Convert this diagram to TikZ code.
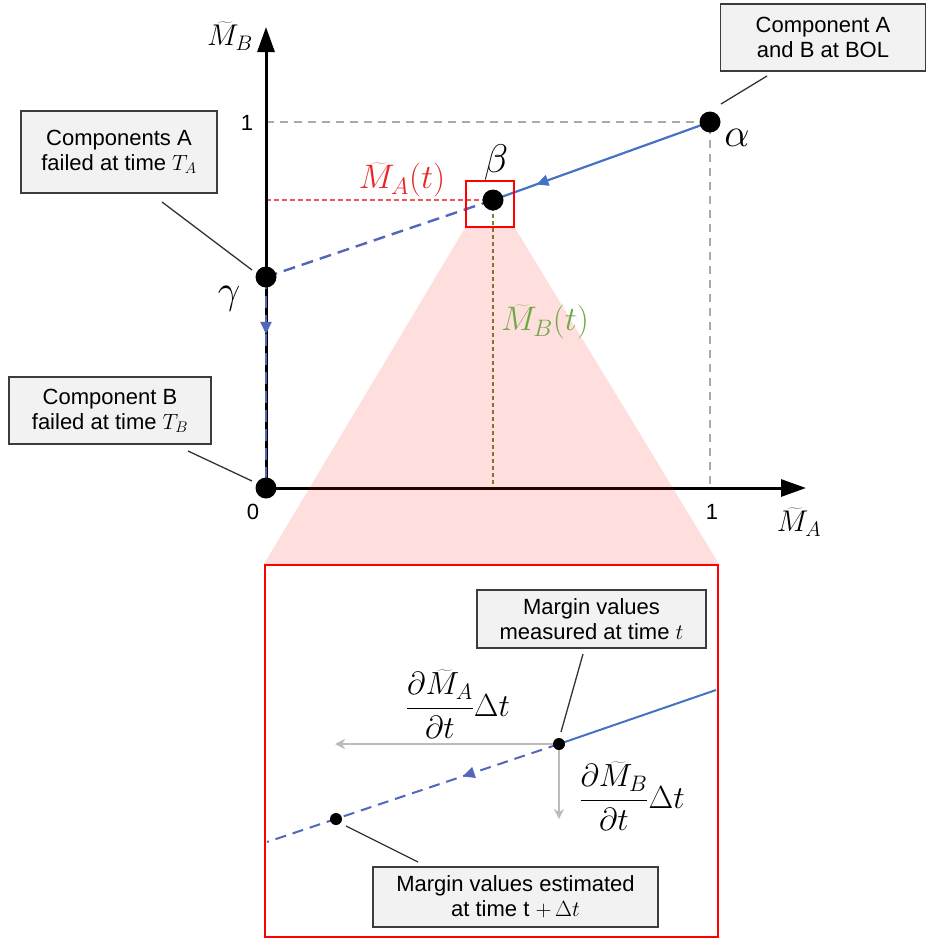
\RequirePackage{fix-cm}
\documentclass[tikz,border=0pt]{standalone}
\usepackage[no-math]{fontspec}
\setmainfont{Liberation Sans}
\usetikzlibrary{arrows.meta,decorations.markings}
\definecolor{lineblue}{RGB}{68,114,196}
\definecolor{dashblue}{RGB}{84,102,186}
\definecolor{boxfill}{RGB}{242,242,242}
\definecolor{boxdraw}{RGB}{60,60,60}
\definecolor{olivedot}{RGB}{130,125,60}
\definecolor{greenlbl}{RGB}{112,168,70}
\definecolor{redlbl}{RGB}{232,36,36}
\definecolor{gridgray}{RGB}{170,170,170}
\definecolor{arrgray}{RGB}{188,188,188}
\begin{document}
\begin{tikzpicture}[x=1pt,y=-1pt,
  dot/.style={circle,fill=black,inner sep=0pt,minimum size=21pt},
  smalldot/.style={circle,fill=black,inner sep=0pt,minimum size=12pt},
  infobox/.style={draw=boxdraw,fill=boxfill,line width=1.2pt,align=center,font=\fontsize{22}{25}\selectfont,inner sep=0pt},
  axisline/.style={line width=3pt,-{Triangle[length=25pt,width=17pt]}},
  guide/.style={draw=gridgray,line width=2pt,dash pattern=on 8pt off 6pt},
  reddash/.style={draw=redlbl!75,line width=1.4pt,dash pattern=on 5pt off 3pt},
  olivedash/.style={draw=olivedot,line width=1.5pt,dash pattern=on 4pt off 3pt},
  bluesolid/.style={draw=lineblue,line width=2.2pt},
  bluedash/.style={draw=dashblue,line width=2.4pt,dash pattern=on 12pt off 7pt},
  midarrow/.style={postaction={decorate,solid,decoration={markings,mark=at position #1 with {\arrow{Triangle[length=12pt,width=11pt]}}}}},
  grayarrow/.style={draw=arrgray,line width=1.6pt,-{Stealth[length=10pt,width=10pt,inset=3pt]}},
  leader/.style={draw=black!80,line width=1.3pt},
  mathlbl/.style={inner sep=0pt,font=\fontsize{40}{44}\selectfont},
  axlbl/.style={inner sep=0pt,font=\fontsize{30}{34}\selectfont},
  numlbl/.style={inner sep=0pt,font=\fontsize{22}{26}\selectfont},
  fraclbl/.style={inner sep=0pt,font=\fontsize{32}{36}\selectfont}
]
\useasboundingbox (0,0) rectangle (928,938);
% key points
\coordinate (pO) at (266,488);
\coordinate (pG) at (266,277);
\coordinate (pB) at (493,200);
\coordinate (pA) at (710,122);
\coordinate (ytip) at (266,27);
\coordinate (xtip) at (806,488);
\coordinate (y1) at (266,122);
\coordinate (x1) at (710,488);
\coordinate (yB) at (266,200);
\coordinate (xB) at (493,488);
% guides
\draw[guide] (y1) -- (pA) -- (x1);
\draw[reddash] (yB) -- (pB);
\draw[olivedash] (pB) -- (xB);
% axes
\draw[axisline] (pO) -- (ytip);
\draw[axisline] (pO) -- (xtip);
% trajectory
\draw[bluesolid,midarrow=0.8] (pA) -- (pB);
\draw[bluedash] (pB) -- (pG);
\draw[bluedash,midarrow=0.27] (pG) -- (pO);
% zoom box and inset
\node[draw=red,line width=2pt,minimum width=48pt,minimum height=46pt,inner sep=0pt] (zbox) at (490,204) {};
\node[draw=red,line width=2pt,fill=white,minimum width=453pt,minimum height=372pt,inner sep=0pt] (inset) at (491.5,751) {};
\fill[red,opacity=0.13] (zbox.south west) -- (zbox.south east) -- (inset.north east) -- (inset.north west) -- cycle;
% inset content
\coordinate (m1) at (559,744);
\coordinate (m2) at (336,819);
\coordinate (iR) at (716,690);
\coordinate (iL) at (267,842);
\coordinate (gL) at (335,744);
\coordinate (gD) at (559,819);
\draw[bluesolid,line width=2pt] (m1) -- (iR);
\draw[bluedash,line width=2pt,dash pattern=on 11pt off 7pt,midarrow=0.33] (m1) -- (iL);
\draw[grayarrow] (m1) -- (gL);
\draw[grayarrow] (m1) -- (gD);
\node[smalldot] (d1) at (m1) {};
\node[smalldot] (d2) at (m2) {};
\node[fraclbl] (fA) at (458,704) {$\displaystyle\frac{\partial \widetilde{M}_A}{\partial t}\Delta t$};
\node[fraclbl] (fB) at (632,796) {$\displaystyle\frac{\partial \widetilde{M}_B}{\partial t}\Delta t$};
% dots
\node[dot] (O) at (pO) {};
\node[dot] (G) at (pG) {};
\node[dot] (B) at (pB) {};
\node[dot] (A) at (pA) {};
% labels
\node[axlbl] (lMB) at (230,36) {$\widetilde{M}_B$};
\node[axlbl] (lMA) at (799,522) {$\widetilde{M}_A$};
\node[numlbl] (l1y) at (247,123) {1};
\node[numlbl] (l1x) at (712,512) {1};
\node[numlbl] (l0) at (253,512) {0};
\node[mathlbl] (la) at (737,138) {$\alpha$};
\node[mathlbl] (lb) at (496,162) {$\beta$};
\node[mathlbl] (lg) at (229,299) {$\gamma$};
\node[inner sep=0pt,font=\fontsize{34}{38}\selectfont,text=redlbl] (lMAt) at (402,180) {$\widetilde{M}_A(t)$};
\node[inner sep=0pt,font=\fontsize{34}{38}\selectfont,text=greenlbl] (lMBt) at (545,322) {$\widetilde{M}_B(t)$};
% info boxes
\node[infobox,minimum width=196pt,minimum height=82pt] (tl) at (119,152) {Components A\\failed at time $T_A$};
\node[infobox,minimum width=205pt,minimum height=67pt] (tr) at (823,37.5) {Component A\\and B at BOL};
\node[infobox,minimum width=202pt,minimum height=67pt] (bl) at (110,410.5) {Component B\\failed at time $T_B$};
\node[infobox,minimum width=229pt,minimum height=58pt] (mb) at (591.5,619) {Margin values\\measured at time $t$};
\node[infobox,minimum width=285pt,minimum height=60pt] (eb) at (515.5,897) {Margin values estimated\\at time t $+\,\Delta t$};
% leaders
\coordinate (tlL) at (162,202); \coordinate (tlP) at (252,270);
\coordinate (trL) at (767,76);  \coordinate (trP) at (721,104);
\coordinate (blL) at (188,451); \coordinate (blP) at (252,481);
\coordinate (mbL) at (583,654); \coordinate (mbP) at (561,732);
\coordinate (ebL) at (418,862); \coordinate (ebP) at (346,826);
\draw[leader] (tlL) -- (tlP);
\draw[leader] (trL) -- (trP);
\draw[leader] (blL) -- (blP);
\draw[leader] (mbL) -- (mbP);
\draw[leader] (ebL) -- (ebP);
\end{tikzpicture}
\end{document}
